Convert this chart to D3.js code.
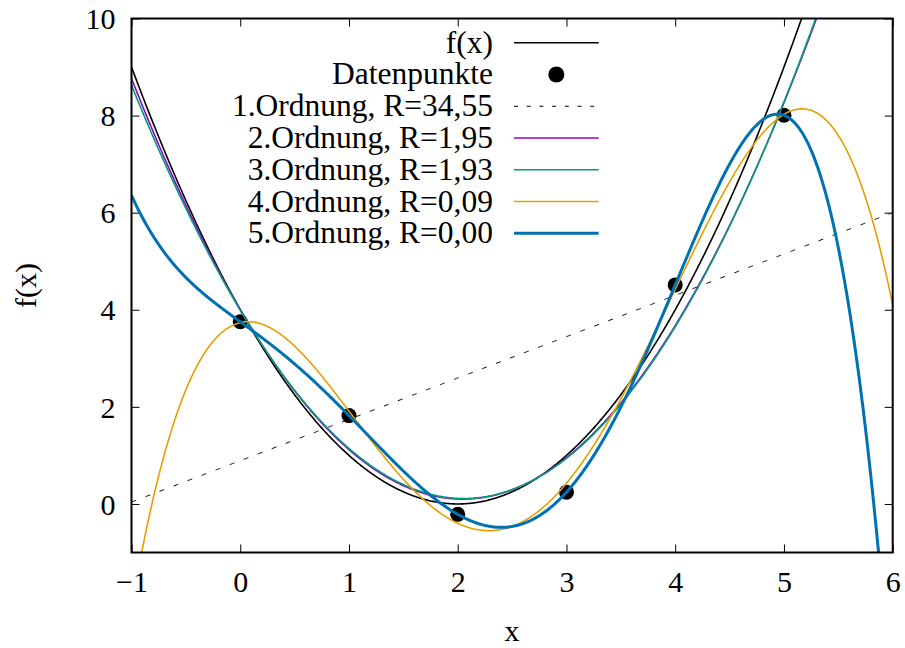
<!DOCTYPE html>
<html>
<head>
<meta charset="utf-8">
<script src="https://cdn.jsdelivr.net/npm/d3@7"></script>
<style>
  body { margin: 0; background: #fff; }
</style>
</head>
<body>
<svg id="chart" width="905" height="648"></svg>
<script>
// Measured points
const dataX = [0, 1, 2, 3, 4, 5];
const dataY = [3.753, 1.820, -0.214, 0.243, 4.512, 8.007];

// Underlying function f(x) = 4 - 4x + x^2, coefficients in ascending powers
const trueCoef = [4, -4, 1];

// Polynomial fits of increasing order and their legend entries
const fitOrders = [1, 2, 3, 4, 5];
const fitLabels = [
  "1.Ordnung, R=34,55",
  "2.Ordnung, R=1,95",
  "3.Ordnung, R=1,93",
  "4.Ordnung, R=0,09",
  "5.Ordnung, R=0,00"
];
const fitColors = ["#000000", "#9400d3", "#009e73", "#e69f00", "#0072b2"];
const fitWidths = [1, 1.6, 1.6, 1.6, 3];
const fitDash = ["5,10", null, null, null, null];

const xTicks = [-1, 0, 1, 2, 3, 4, 5, 6];
const yTicks = [0, 2, 4, 6, 8, 10];

const plot = { left: 131.5, right: 892.7, top: 18.5, bottom: 552.5 };
const FONT = 30;
const LEGEND_FONT = 31.5;
const FAMILY = "'Liberation Serif', 'Times New Roman', Times, 'Nimbus Roman', serif";

const svg = d3.select("#chart");
const x = d3.scaleLinear().domain([-1, 6]).range([plot.left, plot.right]);
const y = d3.scaleLinear().domain([-1, 10]).range([plot.bottom, plot.top]);

function styleText(sel, size) {
  return sel.style("font-family", FAMILY).style("font-size", (size || FONT) + "px").attr("fill", "#000");
}

// Least-squares polynomial fit (centered for conditioning)
function polyfit(xs, ys, deg) {
  const x0 = d3.mean(xs);
  const n = deg + 1;
  const A = Array.from({ length: n }, () => new Array(n + 1).fill(0));
  xs.forEach((xv, i) => {
    const t = xv - x0;
    for (let r = 0; r < n; r++) {
      for (let c = 0; c < n; c++) A[r][c] += Math.pow(t, r + c);
      A[r][n] += Math.pow(t, r) * ys[i];
    }
  });
  for (let col = 0; col < n; col++) {
    let piv = col;
    for (let r = col + 1; r < n; r++) if (Math.abs(A[r][col]) > Math.abs(A[piv][col])) piv = r;
    [A[col], A[piv]] = [A[piv], A[col]];
    for (let r = 0; r < n; r++) {
      if (r === col) continue;
      const f = A[r][col] / A[col][col];
      for (let c = col; c <= n; c++) A[r][c] -= f * A[col][c];
    }
  }
  const coef = A.map((row, i) => row[n] / row[i]);
  return { x0, coef };
}
function polyval(coef, t) {
  let v = 0;
  for (let k = coef.length - 1; k >= 0; k--) v = v * t + coef[k];
  return v;
}

const samples = d3.range(0, 701).map(i => -1 + 7 * i / 700);

svg.append("defs").append("clipPath").attr("id", "plotclip")
  .append("rect")
  .attr("x", plot.left).attr("y", plot.top)
  .attr("width", plot.right - plot.left).attr("height", plot.bottom - plot.top);

const line = d3.line().x(d => x(d[0])).y(d => y(d[1]));

// Axes with inward ticks on all four sides
const tickLen = 8;
const fmt = d3.format("d");
const gB = svg.append("g").attr("transform", `translate(0,${plot.bottom})`)
  .call(d3.axisBottom(x).tickValues(xTicks).tickFormat(fmt).tickSize(-tickLen).tickPadding(0));
gB.selectAll("text").attr("y", 39).attr("dy", null).call(styleText);
const gT = svg.append("g").attr("transform", `translate(0,${plot.top})`)
  .call(d3.axisTop(x).tickValues(xTicks).tickSize(-tickLen).tickFormat(""));
const gL = svg.append("g").attr("transform", `translate(${plot.left},0)`)
  .call(d3.axisLeft(y).tickValues(yTicks).tickFormat(fmt).tickSize(-tickLen).tickPadding(0));
gL.selectAll("text").attr("x", -16).attr("dy", "0.34em").call(styleText);
const gR = svg.append("g").attr("transform", `translate(${plot.right},0)`)
  .call(d3.axisRight(y).tickValues(yTicks).tickSize(-tickLen).tickFormat(""));
[gB, gT, gL, gR].forEach(g => {
  g.select(".domain").remove();
  g.selectAll(".tick line").attr("stroke", "#000").attr("stroke-width", 1);
  g.attr("font-family", null).attr("font-size", null);
});

const plotG = svg.append("g").attr("clip-path", "url(#plotclip)");

// f(x)
plotG.append("path")
  .datum(samples.map(s => [s, polyval(trueCoef, s)]))
  .attr("d", line).attr("fill", "none")
  .attr("stroke", "#000").attr("stroke-width", 1.6);

// Data points
plotG.selectAll("circle.pt").data(dataX.map((xv, i) => [xv, dataY[i]]))
  .enter().append("circle").attr("class", "pt")
  .attr("cx", d => x(d[0])).attr("cy", d => y(d[1])).attr("r", 7.5).attr("fill", "#000");

// Fitted polynomials
fitOrders.forEach((ord, i) => {
  const fit = polyfit(dataX, dataY, ord);
  const p = plotG.append("path")
    .datum(samples.map(s => [s, polyval(fit.coef, s - fit.x0)]))
    .attr("d", line).attr("fill", "none")
    .attr("stroke", fitColors[i]).attr("stroke-width", fitWidths[i]);
  if (fitDash[i]) p.attr("stroke-dasharray", fitDash[i]);
});

// Frame
svg.append("rect")
  .attr("x", plot.left).attr("y", plot.top)
  .attr("width", plot.right - plot.left).attr("height", plot.bottom - plot.top)
  .attr("fill", "none").attr("stroke", "#000").attr("stroke-width", 2);

// Legend
const legTextX = 493, legLine0 = 514, legLine1 = 598.7;
const legRow0 = 42.7, legStep = 31.77;
const legend = svg.append("g");
const entries = [{ label: "f(x)", kind: "line", color: "#000", width: 1.6 },
  { label: "Datenpunkte", kind: "dot" }]
  .concat(fitLabels.map((l, i) => ({ label: l, kind: "line", color: fitColors[i], width: fitWidths[i], dash: fitDash[i] ? "4,8.7" : null })));
entries.forEach((e, i) => {
  const cy = legRow0 + i * legStep;
  legend.append("text").attr("x", legTextX).attr("y", cy + 10)
    .attr("text-anchor", "end").call(styleText, LEGEND_FONT).text(e.label);
  if (e.kind === "dot") {
    legend.append("circle").attr("cx", (legLine0 + legLine1) / 2).attr("cy", cy).attr("r", 8).attr("fill", "#000");
  } else {
    const l = legend.append("line").attr("x1", legLine0).attr("x2", legLine1)
      .attr("y1", cy).attr("y2", cy).attr("stroke", e.color).attr("stroke-width", e.width);
    if (e.dash) l.attr("stroke-dasharray", e.dash);
  }
});

// Axis titles
svg.append("text").attr("x", (plot.left + plot.right) / 2).attr("y", 641)
  .attr("text-anchor", "middle").call(styleText).text("x");
svg.append("text").attr("transform", `translate(36,${(plot.top + plot.bottom) / 2}) rotate(-90)`)
  .attr("text-anchor", "middle").call(styleText).text("f(x)");
</script>
</body>
</html>
